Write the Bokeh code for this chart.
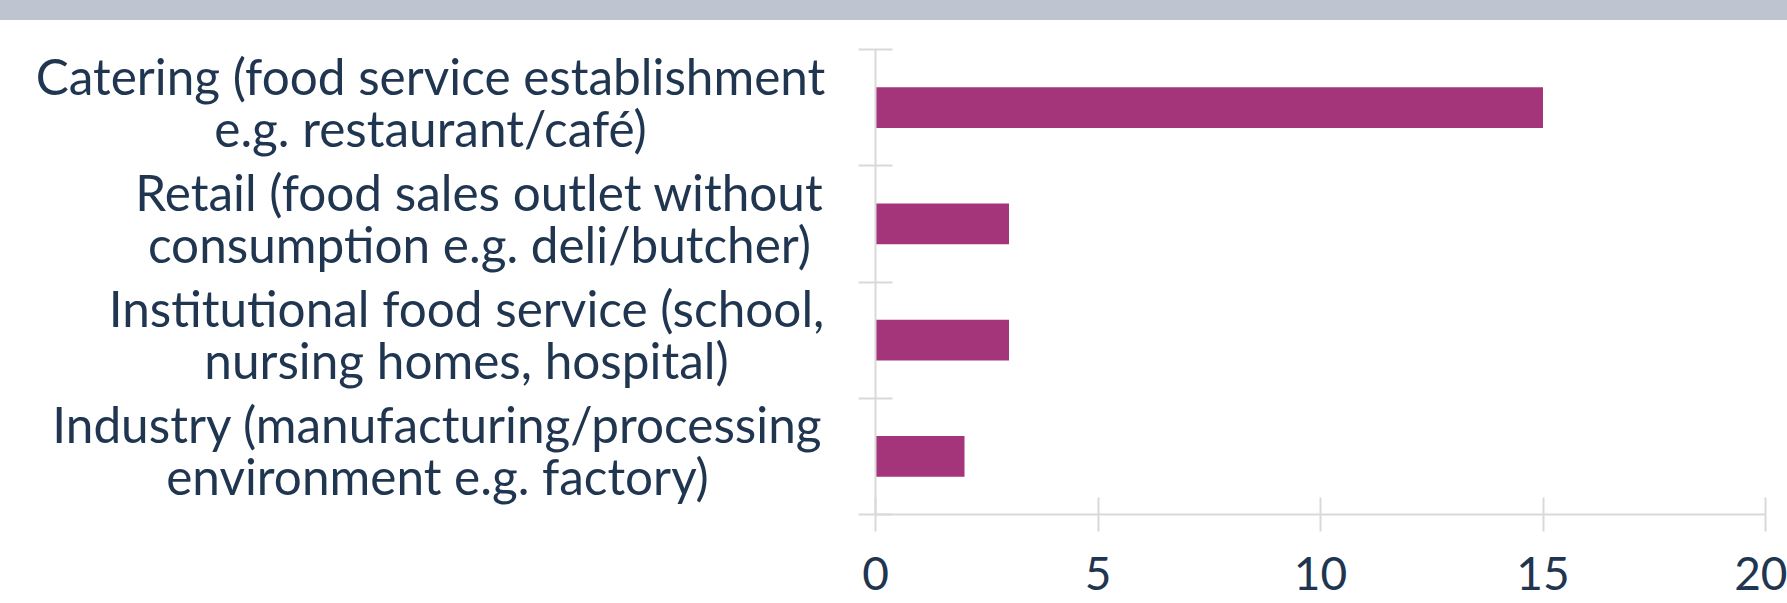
from bokeh.plotting import figure
from bokeh.models import ColumnDataSource, FixedTicker, Range1d, Div
from bokeh.core.properties import value
from bokeh.layouts import column, row
from bokeh.embed import file_html
from bokeh.resources import INLINE

# ---- data ----
categories = [
    "Catering (food service establishment\ne.g. restaurant/café)",
    "Retail (food sales outlet without\nconsumption e.g. deli/butcher)",
    "Institutional food service (school,\nnursing homes, hospital)",
    "Industry (manufacturing/processing\nenvironment e.g. factory)",
]
values = [15, 3, 3, 2]
x_ticks = [0, 5, 10, 15, 20]

# horizontal centre of each category label block (pixels in label panel)
label_centres = [430, 479, 466, 437]

TEXT = "#1F3550"
BAR = "#A4357A"
AXIS = "#D9D9D9"
FONT = "Lato"

n = len(categories)
ypos = [n - i - 0.5 for i in range(n)]

src = ColumnDataSource(dict(cat=categories, val=values, y=ypos, lx=label_centres))

yr = Range1d(0, n)
FH = 465
TOP = 29
BOT = 89

# label panel
lp = figure(output_backend="svg", toolbar_location=None,
            frame_width=855, frame_height=FH,
            min_border_left=0, min_border_right=0,
            min_border_top=TOP, min_border_bottom=BOT,
            x_range=Range1d(0, 855), y_range=yr,
            x_axis_type=None, y_axis_type=None)
lp.outline_line_color = None
lp.grid.visible = False
lp.text(x="lx", y="y", text="cat", source=src, y_offset=-6,
        text_align="center", text_baseline="middle",
        text_font=value(FONT), text_font_size="49.5px",
        text_color=TEXT, text_line_height=0.87)

# chart panel
p = figure(output_backend="svg", toolbar_location=None,
           frame_width=890, frame_height=FH,
           min_border_left=20, min_border_right=22,
           min_border_top=TOP, min_border_bottom=BOT,
           x_range=Range1d(0, 20), y_range=yr,
           background_fill_color="white", border_fill_color="white")
p.outline_line_color = None
p.xgrid.visible = False
p.ygrid.visible = False

p.hbar(y="y", right="val", left=0, height=0.35, source=src,
       fill_color=BAR, line_color=None)

xa = p.xaxis[0]
xa.ticker = FixedTicker(ticks=x_ticks)
xa.axis_line_color = AXIS
xa.axis_line_width = 2
xa.major_tick_line_color = AXIS
xa.major_tick_line_width = 2
xa.major_tick_in = 17
xa.major_tick_out = 17
xa.minor_tick_line_color = None
xa.major_label_text_font = FONT
xa.major_label_text_font_size = "46px"
xa.major_label_text_color = TEXT
xa.major_label_standoff = 25

ya = p.yaxis[0]
ya.ticker = FixedTicker(ticks=list(range(n + 1)))
ya.axis_line_color = AXIS
ya.axis_line_width = 2
ya.major_tick_line_color = AXIS
ya.major_tick_line_width = 2
ya.major_tick_in = 17
ya.major_tick_out = 17
ya.minor_tick_line_color = None
ya.major_label_text_font_size = "0px"
ya.major_label_text_color = None
ya.major_label_standoff = 0

band = Div(text="", width=1787, height=20, margin=0,
           styles={"background-color": "#BEC5D1"})

layout = column(band, row(lp, p, spacing=0, margin=0), spacing=0, margin=0)

open("out.html", "w").write(file_html(layout, INLINE))
